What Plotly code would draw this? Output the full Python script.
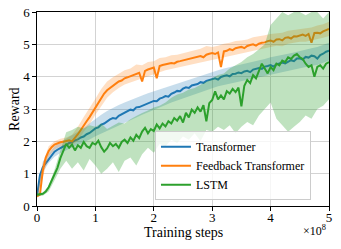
import plotly.graph_objects as go

# x positions in units of 1e8 training steps
steps = [round(i * 0.05, 2) for i in range(101)]
band_steps = [round(i * 0.1, 1) for i in range(51)]

transformer = [0.30, 0.95, 1.20, 1.32, 1.45, 1.58, 1.68, 1.74, 1.80, 1.84,
               1.88, 1.95, 1.97, 2.03, 2.06, 2.12, 2.15, 2.22, 2.26, 2.33,
               2.40, 2.43, 2.52, 2.55, 2.63, 2.68, 2.72, 2.70, 2.79, 2.84,
               2.88, 2.92, 2.98, 2.96, 3.05, 3.06, 3.10, 3.15, 3.18, 3.22,
               3.25, 3.24, 3.32, 3.35, 3.40, 3.38, 3.47, 3.51, 3.56, 3.55,
               3.63, 3.67, 3.65, 3.73, 3.75, 3.77, 3.83, 3.81, 3.87, 3.90,
               3.93, 3.95, 3.91, 3.99, 4.02, 4.04, 4.01, 4.08, 4.09, 4.13,
               4.11, 4.16, 4.18, 4.14, 4.22, 4.24, 4.27, 4.24, 4.31, 4.33,
               4.36, 4.31, 4.39, 4.41, 4.44, 4.41, 4.47, 4.51, 4.48, 4.56,
               4.57, 4.53, 4.61, 4.59, 4.65, 4.63, 4.56, 4.67, 4.71, 4.77,
               4.80]

feedback = [0.30, 0.35, 1.10, 1.50, 1.70, 1.82, 1.90, 1.94, 1.97, 1.99,
            2.01, 2.03, 2.00, 2.10, 2.22, 2.35, 2.50, 2.62, 2.75, 2.90,
            3.05, 3.18, 3.35, 3.48, 3.58, 3.65, 3.72, 3.78, 3.85, 3.88,
            3.95, 3.98, 4.02, 4.05, 4.08, 4.12, 3.85, 4.18, 4.22, 4.25,
            4.28, 3.95, 4.33, 4.36, 4.38, 4.40, 4.42, 4.41, 4.46, 4.48,
            4.50, 4.52, 4.55, 4.57, 4.60, 4.62, 4.64, 4.60, 4.68, 4.71,
            4.73, 4.70, 4.75, 4.30, 4.78, 4.80, 4.85, 4.82, 4.88, 4.90,
            4.92, 4.88, 4.95, 4.98, 5.00, 4.96, 5.02, 5.05, 5.06, 5.10,
            5.12, 5.08, 5.15, 5.16, 5.12, 5.20, 5.22, 5.18, 5.25, 5.24,
            5.28, 5.30, 5.26, 5.32, 5.05, 5.35, 5.36, 5.34, 5.40, 5.45,
            5.48]

lstm = [0.35, 0.36, 0.38, 0.45, 0.58, 0.78, 0.98, 1.18, 1.48, 1.72,
        1.92, 1.80, 1.90, 1.72, 1.88, 1.80, 1.98, 1.85, 1.80, 1.95,
        1.90, 2.02, 1.82, 1.68, 1.78, 1.95, 1.85, 1.92, 1.80, 1.98,
        2.05, 1.95, 2.12, 2.02, 2.20, 2.10, 2.30, 2.42, 2.25, 2.38,
        2.32, 2.52, 2.40, 2.55, 2.46, 2.62, 2.55, 2.72, 2.64, 2.78,
        2.58, 2.88, 2.74, 2.98, 2.88, 3.05, 2.92, 3.12, 2.62, 3.18,
        3.28, 3.55, 3.30, 3.42, 3.30, 3.55, 3.48, 3.62, 3.52, 3.66,
        3.08, 3.72, 3.90, 3.80, 4.05, 3.95, 4.20, 4.40, 4.25, 4.10,
        4.30, 4.20, 4.40, 4.35, 4.50, 4.45, 4.60, 4.55, 4.65, 4.70,
        4.60, 4.55, 4.40, 4.30, 4.35, 4.00, 4.30, 4.35, 4.25, 4.40,
        4.45]

transformer_hi = [0.35, 1.38, 1.62, 1.85, 1.98, 2.08, 2.18, 2.30, 2.42, 2.56,
                  2.70, 2.82, 2.94, 3.04, 3.12, 3.20, 3.28, 3.35, 3.42, 3.49,
                  3.55, 3.62, 3.68, 3.74, 3.80, 3.86, 3.92, 3.98, 4.04, 4.10,
                  4.15, 4.20, 4.25, 4.29, 4.33, 4.37, 4.41, 4.45, 4.50, 4.55,
                  4.60, 4.63, 4.67, 4.71, 4.75, 4.80, 4.84, 4.88, 4.92, 4.98,
                  5.05]
transformer_lo = [0.25, 1.05, 1.33, 1.52, 1.64, 1.74, 1.82, 1.90, 1.98, 2.06,
                  2.16, 2.26, 2.34, 2.42, 2.50, 2.58, 2.66, 2.74, 2.82, 2.90,
                  2.98, 3.05, 3.12, 3.20, 3.27, 3.34, 3.40, 3.46, 3.52, 3.58,
                  3.64, 3.70, 3.74, 3.80, 3.84, 3.88, 3.92, 3.96, 4.00, 4.04,
                  4.08, 4.12, 4.16, 4.19, 4.23, 4.27, 4.30, 4.34, 4.36, 4.42,
                  4.50]

feedback_hi = [0.35, 1.32, 1.85, 2.00, 2.08, 2.12, 2.20, 2.45, 2.75, 3.02,
               3.32, 3.62, 3.85, 3.98, 4.10, 4.20, 4.25, 4.38, 4.35, 4.45,
               4.48, 4.58, 4.60, 4.66, 4.68, 4.72, 4.76, 4.82, 4.86, 4.95,
               4.92, 4.96, 5.02, 5.05, 5.10, 5.12, 5.15, 5.22, 5.24, 5.28,
               5.32, 5.35, 5.36, 5.42, 5.45, 5.48, 5.50, 5.52, 5.58, 5.62,
               5.70]
feedback_lo = [0.25, 0.90, 1.52, 1.75, 1.84, 1.88, 1.88, 2.02, 2.30, 2.52,
               2.82, 3.10, 3.35, 3.52, 3.65, 3.76, 3.84, 3.90, 3.96, 4.02,
               4.08, 4.14, 4.20, 4.24, 4.28, 4.32, 4.36, 4.42, 4.46, 4.50,
               4.54, 4.56, 4.60, 4.66, 4.70, 4.74, 4.77, 4.82, 4.84, 4.88,
               4.92, 4.96, 4.94, 5.02, 5.06, 5.08, 5.08, 5.12, 5.16, 5.20,
               5.26]

lstm_hi = [0.40, 0.42, 0.62, 1.12, 1.72, 2.28, 2.35, 2.45, 2.40, 2.50,
           2.45, 2.55, 2.38, 2.48, 2.58, 2.55, 2.68, 2.78, 2.88, 2.95,
           3.05, 3.10, 3.20, 3.35, 3.45, 3.50, 3.60, 3.65, 3.75, 3.85,
           3.95, 4.05, 4.10, 4.25, 4.35, 4.45, 4.60, 4.70, 4.85, 5.00,
           5.60, 5.80, 6.00, 5.90, 6.00, 6.00, 5.90, 6.00, 6.00, 5.80,
           6.00]
lstm_lo = [0.30, 0.32, 0.45, 0.80, 1.15, 1.40, 1.15, 1.35, 1.10, 1.45,
           1.25, 1.00, 1.15, 1.35, 1.05, 1.40, 1.50, 1.25, 1.60, 1.80,
           1.65, 1.92, 1.85, 2.05, 1.95, 2.15, 2.05, 2.25, 2.00, 2.35,
           2.30, 2.45, 2.35, 2.50, 2.25, 2.45, 2.60, 2.50, 2.80, 3.00,
           3.20, 2.70, 2.50, 2.30, 2.45, 2.60, 2.80, 2.70, 3.00, 3.10,
           3.30]

x_ticks = [0, 1, 2, 3, 4, 5]
y_ticks = [0, 1, 2, 3, 4, 5, 6]

series = [
    ("Transformer", transformer, transformer_lo, transformer_hi, "#1f77b4", "rgba(31,119,180,0.25)"),
    ("Feedback Transformer", feedback, feedback_lo, feedback_hi, "#ff7f0e", "rgba(255,127,14,0.25)"),
    ("LSTM", lstm, lstm_lo, lstm_hi, "#2ca02c", "rgba(44,160,44,0.3)"),
]

FONT = "Liberation Serif"
fig = go.Figure()
for name, mean, lo, hi, color, fill in series:
    fig.add_trace(go.Scatter(
        x=band_steps + band_steps[::-1], y=hi + lo[::-1],
        fill="toself", fillcolor=fill, line=dict(width=0),
        mode="lines", hoverinfo="skip", showlegend=False))
    fig.add_trace(go.Scatter(
        x=steps, y=mean, mode="lines", name=name,
        line=dict(color=color, width=2)))

axis_common = dict(showline=True, linecolor="black", linewidth=1.2, mirror=True,
                   ticks="outside", ticklen=3.5, tickcolor="black",
                   showgrid=True, gridcolor="#d3d3d3", gridwidth=1,
                   zeroline=False, automargin=False, ticklabeloverflow="allow",
                   tickfont=dict(family=FONT, size=13, color="black"))

fig.update_xaxes(range=[0, 5], tickvals=x_ticks, ticktext=[str(t) for t in x_ticks],
                 ticklabelstandoff=-4, **axis_common)
fig.update_yaxes(range=[0, 6], tickvals=y_ticks, ticktext=[str(t) for t in y_ticks],
                 **axis_common)

fig.add_annotation(text="Training steps", xref="paper", yref="paper", x=0.5, y=-0.139,
                   xanchor="center", yanchor="middle", showarrow=False,
                   font=dict(family=FONT, size=14, color="black"))
fig.add_annotation(text="Reward", xref="paper", yref="paper", x=-0.079, y=0.5,
                   xanchor="center", yanchor="middle", textangle=-90, showarrow=False,
                   font=dict(family=FONT, size=14, color="black"))
fig.add_annotation(text="×10<sup>8</sup>", xref="paper", yref="paper", x=0.995, y=-0.124,
                   xanchor="right", yanchor="middle", showarrow=False,
                   font=dict(family=FONT, size=12, color="black"))

# the page adds an 8px body margin, so the figure is drawn 8px smaller with matching margins
fig.update_layout(
    width=333, height=241,
    margin=dict(l=29, r=12, t=4, b=43, autoexpand=False),
    plot_bgcolor="white", paper_bgcolor="white",
    legend=dict(x=0.404, y=0.03, xanchor="left", yanchor="bottom",
                bgcolor="rgba(255,255,255,0.8)", bordercolor="#cccccc", borderwidth=1,
                font=dict(family=FONT, size=12, color="black"),
                tracegroupgap=0),
)

fig.write_html("out.html")
